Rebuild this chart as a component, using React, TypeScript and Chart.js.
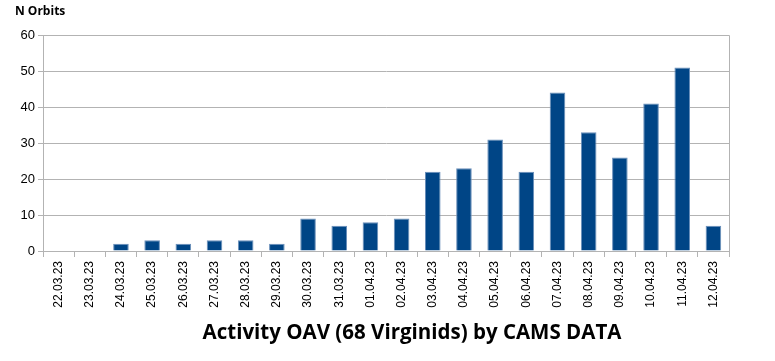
import React, { useEffect, useRef } from "react";
import { Chart, registerables } from "chart.js";

Chart.register(...registerables);

const categories = [
  "22.03.23", "23.03.23", "24.03.23", "25.03.23", "26.03.23", "27.03.23",
  "28.03.23", "29.03.23", "30.03.23", "31.03.23", "01.04.23", "02.04.23",
  "03.04.23", "04.04.23", "05.04.23", "06.04.23", "07.04.23", "08.04.23",
  "09.04.23", "10.04.23", "11.04.23", "12.04.23",
];
const orbits = [0, 0, 2, 3, 2, 3, 3, 2, 9, 7, 8, 9, 22, 23, 31, 22, 44, 33, 26, 41, 51, 7];
const yTicks = [0, 10, 20, 30, 40, 50, 60];
const yTitle = "N Orbits";
const chartTitle = "Activity OAV (68 Virginids) by CAMS DATA";

const GRID = "#b3b3b3";

const framePlugin = {
  id: "frame",
  afterDraw(chart: any) {
    const { ctx, chartArea } = chart;
    ctx.save();
    ctx.strokeStyle = GRID;
    ctx.lineWidth = 1;
    ctx.beginPath();
    ctx.moveTo(chartArea.left, chartArea.top + 0.5);
    ctx.lineTo(chartArea.right + 0.5, chartArea.top + 0.5);
    ctx.lineTo(chartArea.right + 0.5, chartArea.bottom);
    ctx.stroke();
    ctx.fillStyle = "#000";
    ctx.font = "bold 12px 'Open Sans'";
    ctx.textBaseline = "middle";
    ctx.textAlign = "left";
    ctx.fillText(yTitle, 15, 12);
    ctx.font = "bold 20.5px 'Open Sans'";
    ctx.textAlign = "center";
    ctx.fillText(chartTitle, 412, 333);
    ctx.restore();
  },
};

export default function App() {
  const ref = useRef<HTMLCanvasElement>(null);
  useEffect(() => {
    document.body.style.margin = "0";
    const chart = new Chart(ref.current!, {
      type: "bar",
      data: {
        labels: categories,
        datasets: [
          {
            data: orbits,
            backgroundColor: "#004586",
            borderColor: "#6a8fba",
            borderWidth: 1,
            barPercentage: 0.5,
            categoryPercentage: 1,
          },
        ],
      },
      options: {
        responsive: false,
        animation: false,
        layout: { padding: { top: 35, right: 46, left: 0, bottom: 0 } },
        plugins: { legend: { display: false }, tooltip: { enabled: false }, title: { display: false } },
        scales: {
          x: {
            grid: {
              display: true,
              drawOnChartArea: false,
              drawTicks: true,
              tickLength: 6,
              color: GRID,
              offset: true,
            },
            border: { color: GRID },
            ticks: {
              minRotation: 90,
              maxRotation: 90,
              autoSkip: false,
              color: "#000",
              font: { family: "'Liberation Sans'", size: 12 },
              padding: 4,
            },
            afterFit(scale: any) {
              scale.height = 110;
            },
          },
          y: {
            min: 0,
            max: 60,
            afterBuildTicks(scale: any) {
              scale.ticks = yTicks.map((v) => ({ value: v }));
            },
            grid: { color: GRID, tickLength: 5 },
            border: { color: GRID },
            ticks: {
              color: "#000",
              font: { family: "'Liberation Sans'", size: 13 },
              padding: 3,
            },
            afterFit(scale: any) {
              scale.width = 43;
            },
          },
        },
      },
      plugins: [framePlugin],
    });
    return () => chart.destroy();
  }, []);
  return <canvas ref={ref} width={775} height={361} style={{ display: "block" }} />;
}
